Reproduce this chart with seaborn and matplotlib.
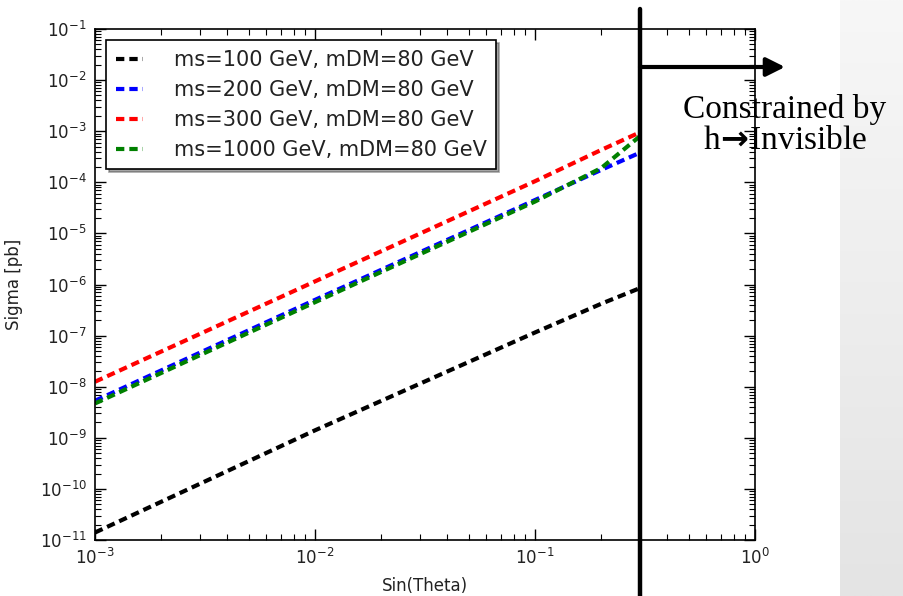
import numpy as np
import pandas as pd
import matplotlib
matplotlib.use("Agg")
import matplotlib.pyplot as plt
import seaborn as sns
from matplotlib.ticker import LogLocator, NullFormatter

# ---- data ----
sin_theta = [1e-3, 1e-2, 1e-1, 0.2, 0.3]
sigma_ms100 = [1.4e-11, 1.4e-9, 1.15e-7, 4.2e-7, 8.5e-7]
sigma_ms200 = [5.3e-9, 5.0e-7, 4.5e-5, 1.75e-4, 3.8e-4]
sigma_ms300 = [1.25e-8, 1.15e-6, 1.05e-4, 4.3e-4, 9.5e-4]
sigma_ms1000 = [4.7e-9, 4.5e-7, 4.2e-5, 1.9e-4, 8.0e-4]
labels = ["ms=100 GeV, mDM=80 GeV", "ms=200 GeV, mDM=80 GeV",
          "ms=300 GeV, mDM=80 GeV", "ms=1000 GeV, mDM=80 GeV"]
colors = ["black", "blue", "red", "green"]
constraint_x = 0.3
annot_text = "Constrained by\nh$\\!\\mathbf{\\rightarrow}\\!$Invisible"

sns.set_style("ticks")
plt.rcParams["font.family"] = ["DejaVu Sans"]
plt.rcParams["lines.scale_dashes"] = False

W, H = 904, 596
fig = plt.figure(figsize=(W / 100, H / 100), dpi=100)
fig.patch.set_facecolor("white")

# grey side panel
gax = fig.add_axes([840 / W, 0, 64 / W, 1])
grad = np.linspace(0, 1, 256).reshape(-1, 1)
gax.imshow(grad, aspect="auto", cmap=matplotlib.colors.LinearSegmentedColormap.from_list(
    "g", ["#f7f7f7", "#e4e4e4"]), extent=[0, 1, 0, 1], origin="upper")
gax.set_axis_off()

ax = fig.add_axes([95 / W, (H - 540) / H, 660 / W, 511 / H])
ax.set_facecolor("white")

series = [sigma_ms100, sigma_ms200, sigma_ms300, sigma_ms1000]
for ys, lab, col in zip(series, labels, colors):
    df = pd.DataFrame({"x": sin_theta, "y": ys})
    sns.lineplot(data=df, x="x", y="y", ax=ax, color=col, label=lab,
                 linestyle="--", linewidth=3, sort=False)
for ln in ax.lines:
    ln.set_dashes((6, 3.6))

ax.set_xscale("log")
ax.set_yscale("log")
ax.set_xlim(1e-3, 1)
ax.set_ylim(1e-11, 1e-1)
ax.yaxis.set_major_locator(LogLocator(base=10, numticks=30))
ax.yaxis.set_minor_locator(LogLocator(base=10, subs=np.arange(2, 10), numticks=30))
ax.yaxis.set_minor_formatter(NullFormatter())
ax.xaxis.set_minor_formatter(NullFormatter())

ax.tick_params(which="both", direction="in", top=True, right=True, colors="black",
               labelcolor="#222222")
ax.tick_params(which="major", length=8, width=1, labelsize=12, pad=6)
ax.tick_params(which="minor", length=4, width=0.8)
for sp in ax.spines.values():
    sp.set_color("black")
    sp.set_linewidth(1.2)

ax.set_xlabel("Sin(Theta)", fontsize=12, color="#222222", labelpad=6)
ax.set_ylabel("Sigma [pb]", fontsize=12, color="#222222", labelpad=12)

leg = ax.legend(loc="upper left", fontsize=15, frameon=True, fancybox=False,
                shadow=True, handlelength=1.3, handletextpad=1.5,
                borderpad=0.45, labelspacing=0.48, borderaxespad=0.55)
leg.get_frame().set_edgecolor("black")
leg.get_frame().set_linewidth(1.2)
for t in leg.get_texts():
    t.set_color("#222222")

# constraint line extending beyond the axes
ax.axvline(constraint_x, ymin=-0.112, ymax=1.04, color="black", lw=3.2, clip_on=False,
           zorder=10)

# arrow
ax.annotate("", xy=(785 / W, (H - 67) / H), xycoords="figure fraction",
            xytext=(constraint_x, (H - 67) / H), textcoords=("data", "figure fraction"),
            arrowprops=dict(arrowstyle="-|>", lw=3, color="black", mutation_scale=28,
                            shrinkA=0, shrinkB=0),
            annotation_clip=False, zorder=10)

fig.text(785 / W, (H - 125) / H, annot_text, ha="center", va="center", fontsize=24,
         family=["Liberation Serif", "DejaVu Serif"], linespacing=1.05, color="black",
         zorder=20)

fig.savefig("out.png", dpi=100)
